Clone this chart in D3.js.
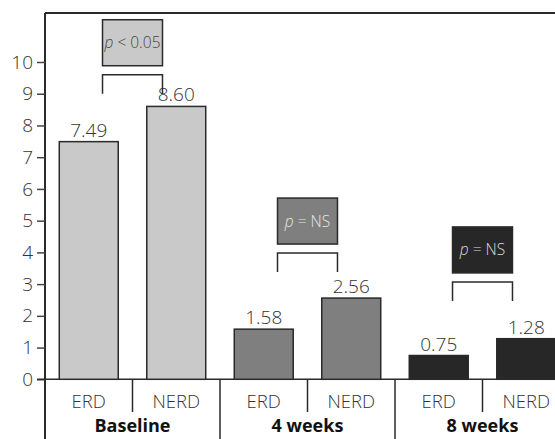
<!DOCTYPE html>
<html>
<head>
<meta charset="utf-8">
<script src="https://cdn.jsdelivr.net/npm/d3@7"></script>
<style>
  html, body { margin: 0; padding: 0; background: #fff; }
  svg { display: block; font-family: "Open Sans", "DejaVu Sans", sans-serif; }
</style>
</head>
<body>
<svg id="chart" width="555" height="439"></svg>
<script>
// ---- data ----
const groups = ["Baseline", "4 weeks", "8 weeks"];
const subgroups = ["ERD", "NERD"];
const erdValues = [7.49, 1.58, 0.75];
const nerdValues = [8.60, 2.56, 1.28];
const valueLabels = [["7.49", "8.60"], ["1.58", "2.56"], ["0.75", "1.28"]];
const pLabels = [["p", " < 0.05"], ["p", " = NS"], ["p", " = NS"]];
const bracketBase = [9.0, 3.38, 2.47];   // value at bottom of bracket legs
const yTicks = [0, 1, 2, 3, 4, 5, 6, 7, 8, 9, 10];
const groupColors = ["#c9c9c9", "#7f7f7f", "#272727"];
const pTextColors = ["#444", "#e6e6e6", "#dcdcdc"];

// ---- layout ----
const svg = d3.select("#chart");
const mLeft = 45, mTop = 13, zeroY = 379.3, tenY = 62, bottomY = 439;
const x0 = d3.scaleBand().domain(groups).range([mLeft, mLeft + 525]).paddingInner(0).paddingOuter(0);
const x1 = d3.scaleBand().domain(subgroups).range([0, x0.bandwidth()]).paddingInner(0.326).paddingOuter(0.163);
const y = d3.scaleLinear().domain([0, 10]).range([zeroY, tenY]);

const ink = "#2a2a2a";
const textCol = "#333";

// frame
svg.append("line").attr("x1", mLeft).attr("x2", 555).attr("y1", mTop).attr("y2", mTop)
  .attr("stroke", ink).attr("stroke-width", 2);
svg.append("line").attr("x1", mLeft).attr("x2", mLeft).attr("y1", mTop).attr("y2", bottomY)
  .attr("stroke", ink).attr("stroke-width", 2);

// y axis
const yAxis = d3.axisLeft(y).tickValues(yTicks).tickSize(8).tickPadding(4).tickFormat(d3.format("d"));
const gy = svg.append("g").attr("transform", `translate(${mLeft},0)`).call(yAxis);
gy.select(".domain").remove();
gy.selectAll(".tick line").attr("stroke", "#444").attr("stroke-width", 1.5);
gy.selectAll(".tick text").attr("font-size", 19).attr("fill", textCol)
  .attr("font-family", "'Open Sans', sans-serif").style("font-weight", 300);

// zero line
svg.append("line").attr("x1", mLeft - 8).attr("x2", 555).attr("y1", y(0)).attr("y2", y(0))
  .attr("stroke", ink).attr("stroke-width", 1.5);

// data rows
const rows = groups.map((g, i) => ({
  group: g, i,
  vals: [{ sub: "ERD", v: erdValues[i], label: valueLabels[i][0] },
         { sub: "NERD", v: nerdValues[i], label: valueLabels[i][1] }]
}));

const gGroups = svg.selectAll("g.grp").data(rows).enter().append("g")
  .attr("class", "grp").attr("transform", d => `translate(${x0(d.group)},0)`);

gGroups.selectAll("rect").data(d => d.vals.map(v => ({ ...v, i: d.i }))).enter().append("rect")
  .attr("x", d => x1(d.sub))
  .attr("width", x1.bandwidth())
  .attr("y", d => y(d.v))
  .attr("height", d => y(0) - y(d.v))
  .attr("fill", d => groupColors[d.i])
  .attr("stroke", ink).attr("stroke-width", 1.5);

gGroups.selectAll("text.val").data(d => d.vals).enter().append("text")
  .attr("class", "val")
  .attr("x", d => x1(d.sub) + x1.bandwidth() / 2)
  .attr("y", d => y(d.v) - 5)
  .attr("text-anchor", "middle").attr("font-size", 19).attr("fill", textCol)
  .style("font-weight", 300)
  .text(d => d.label);

// sub labels
gGroups.selectAll("text.sub").data(subgroups).enter().append("text")
  .attr("class", "sub")
  .attr("x", d => x1(d) + x1.bandwidth() / 2)
  .attr("y", 408)
  .attr("text-anchor", "middle").attr("font-size", 18.5).attr("fill", textCol)
  .style("font-weight", 300)
  .text(d => d);

// group labels
gGroups.append("text")
  .attr("x", x0.bandwidth() / 2).attr("y", 432)
  .attr("text-anchor", "middle").attr("font-size", 18).attr("font-weight", "bold").attr("fill", "#111")
  .text(d => d.group);

// sub dividers
gGroups.append("line")
  .attr("x1", x0.bandwidth() / 2).attr("x2", x0.bandwidth() / 2)
  .attr("y1", y(0)).attr("y2", 412).attr("stroke", ink).attr("stroke-width", 1.5);

// group dividers
svg.selectAll("line.gdiv").data(groups.slice(1)).enter().append("line")
  .attr("class", "gdiv")
  .attr("x1", d => x0(d)).attr("x2", d => x0(d))
  .attr("y1", y(0)).attr("y2", bottomY).attr("stroke", ink).attr("stroke-width", 1.5);

// annotations: bracket + p box
const annW = x1.bandwidth() + 1;
gGroups.each(function (d) {
  const g = d3.select(this);
  const cx = x0.bandwidth() / 2;
  const xa = cx - annW / 2, xb = cx + annW / 2;
  const yb = y(bracketBase[d.i]);
  const yt = yb - 19;
  g.append("path")
    .attr("d", `M${xa},${yb}V${yt}H${xb}V${yb}`)
    .attr("fill", "none").attr("stroke", ink).attr("stroke-width", 1.5);
  const boxBottom = yt - 9, boxTop = boxBottom - 46;
  g.append("rect")
    .attr("x", xa).attr("width", annW)
    .attr("y", boxTop).attr("height", boxBottom - boxTop)
    .attr("fill", groupColors[d.i]).attr("stroke", ink).attr("stroke-width", 1.5);
  const t = g.append("text")
    .attr("x", cx).attr("y", (boxTop + boxBottom) / 2 + 5.5)
    .attr("text-anchor", "middle").attr("font-size", 15.5).attr("fill", pTextColors[d.i])
    .style("font-weight", 300);
  t.append("tspan").attr("font-style", "italic").text(pLabels[d.i][0]);
  t.append("tspan").text(pLabels[d.i][1]);
});
</script>
</body>
</html>
